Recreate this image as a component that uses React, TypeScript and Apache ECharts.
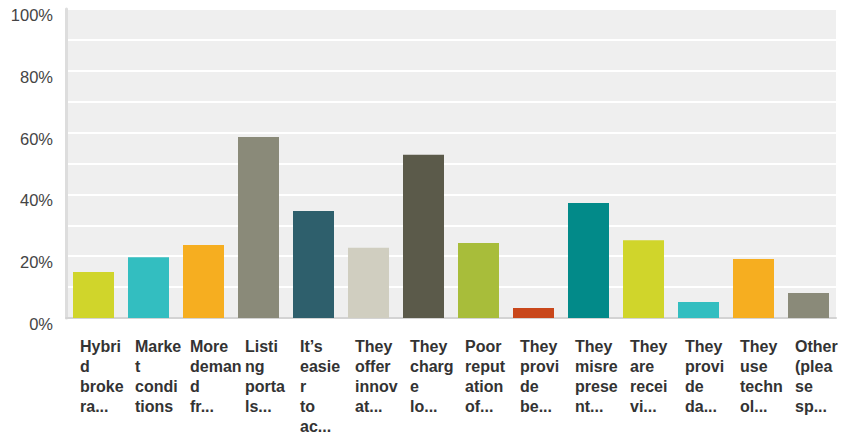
import React, { useEffect, useRef } from "react";
import * as echarts from "echarts";

const categories: string[] = [
  "Hybri\nd\nbroke\nra...",
  "Marke\nt\ncondi\ntions",
  "More\ndeman\nd\nfr...",
  "Listi\nng\nporta\nls...",
  "It’s\neasie\nr\nto\nac...",
  "They\noffer\ninnov\nat...",
  "They\ncharg\ne\nlo...",
  "Poor\nreput\nation\nof...",
  "They\nprovi\nde\nbe...",
  "They\nmisre\nprese\nnt...",
  "They\nare\nrecei\nvi...",
  "They\nprovi\nde\nda...",
  "They\nuse\ntechn\nol...",
  "Other\n(plea\nse\nsp...",
];

const values: number[] = [14.9, 19.7, 23.6, 58.6, 34.6, 22.7, 52.8, 24.3, 3.2, 37.2, 25.2, 5.2, 19.1, 8.1];

const colors: string[] = [
  "#D0D52B", "#33BEC0", "#F6AE20", "#8A8A79", "#2E5F6C", "#D0CEC0", "#5B5A4A",
  "#A8BD3A", "#C9471B", "#028A89", "#D0D52B", "#33BEC0", "#F6AE20", "#8A8A79",
];

const FONT = "'Liberation Sans', Arial, sans-serif";

export default function App() {
  const ref = useRef<HTMLDivElement>(null);
  useEffect(() => {
    if (!ref.current) return;
    const chart = echarts.init(ref.current, null, { renderer: "svg" });
    chart.setOption({
      animation: false,
      grid: {
        left: 66,
        right: 6,
        top: 9,
        bottom: 118,
        containLabel: false,
        outerBoundsMode: "none",
        show: true,
        backgroundColor: "#EFEFEF",
        borderWidth: 0,
      },
      xAxis: {
        type: "category",
        data: categories,
        axisLine: { show: true, lineStyle: { color: "#D3D3D3", width: 2 } },
        axisTick: { show: false },
        axisLabel: {
          interval: 0,
          margin: 18,
          fontFamily: FONT,
          fontSize: 16,
          fontWeight: "bold",
          color: "#333333",
          lineHeight: 20,
          align: "center",
          formatter: (v: string) =>
            v
              .split("\n")
              .map((s) => `{a|${s}}`)
              .join("\n"),
          rich: {
            a: {
              width: 42,
              padding: [0, 0, 0, 15],
              align: "left",
              fontFamily: FONT,
              fontSize: 16,
              fontWeight: "bold",
              color: "#333333",
              lineHeight: 20,
            },
          },
        },
      },
      yAxis: {
        type: "value",
        min: 0,
        max: 100,
        interval: 10,
        axisLine: { show: true, lineStyle: { color: "#DDDDDD", width: 3 } },
        axisTick: { show: false },
        splitLine: { show: true, lineStyle: { color: "#FFFFFF", width: 2 } },
        axisLabel: {
          margin: 13,
          fontFamily: FONT,
          fontSize: 16.5,
          color: "#444444",
          verticalAlign: "top",
          lineHeight: 12,
          formatter: (v: number) => (v % 20 === 0 ? `${v}%` : ""),
        },
      },
      series: [
        {
          type: "bar",
          data: values.map((v, i) => ({ value: v, itemStyle: { color: colors[i] } })),
          barWidth: 41,
        },
      ],
    });
    return () => chart.dispose();
  }, []);
  return (
    <div
      ref={ref}
      style={{ position: "fixed", left: 0, top: 0, width: 842, height: 436, background: "#fff" }}
    />
  );
}
